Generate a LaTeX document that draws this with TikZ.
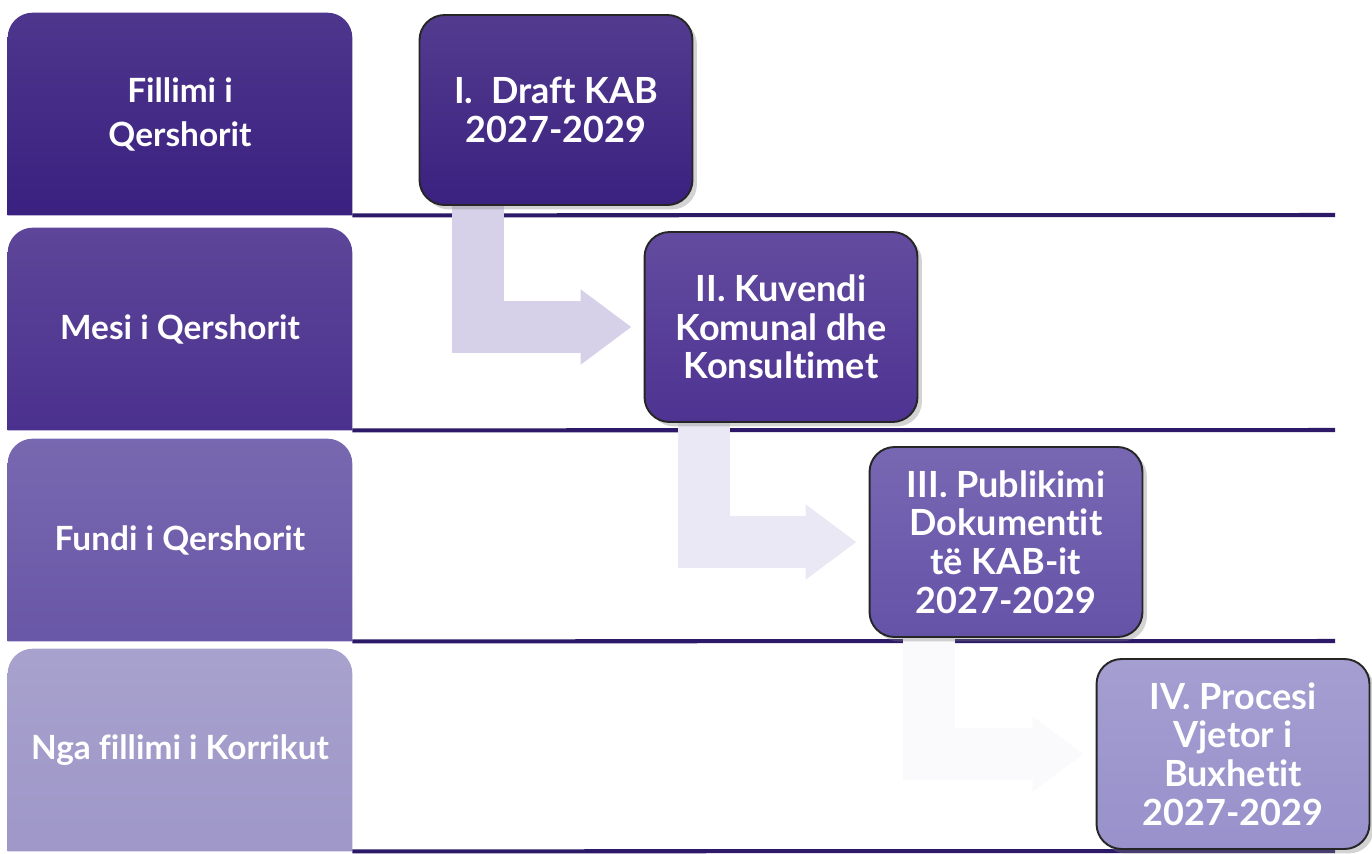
\documentclass[tikz,border=0pt]{standalone}
\usepackage{fontspec}
\setmainfont{Lato}[Ligatures=NoCommon]
\usetikzlibrary{arrows.meta,backgrounds,shadows}
\definecolor{rowA}{HTML}{3A2080}
\definecolor{rowB}{HTML}{4B318E}
\definecolor{rowC}{HTML}{6957A7}
\definecolor{rowD}{HTML}{9E97C8}
\definecolor{stepA}{HTML}{3B2180}
\definecolor{stepB}{HTML}{4E3392}
\definecolor{stepC}{HTML}{6553A8}
\definecolor{stepD}{HTML}{9891CB}
\definecolor{rule}{HTML}{2C1A68}
\definecolor{arrA}{HTML}{D7D0E9}
\definecolor{arrB}{HTML}{EBE8F5}
\definecolor{arrC}{HTML}{FAFAFD}
\begin{document}
\begin{tikzpicture}[x=0.02cm, y=-0.02cm, line join=round, line cap=round, text=white,
		lab/.style={minimum width=6.88cm, minimum height=4.04cm, align=center, inner sep=0pt,
			font=\bfseries\fontsize{19}{25}\selectfont},
		stepbox/.style={draw=black!85, line width=1.1pt, rounded corners=0.5cm, minimum width=5.46cm,
			minimum height=3.8cm, align=center, top color=#1!88!white, bottom color=#1,
			drop shadow={opacity=0.35}, font=\bfseries\fontsize{20.5}{22}\selectfont},
		rowline/.style={rule, line width=2.3pt, line cap=butt},
		flow/.style={#1, line width=1.04cm, line cap=butt, line join=miter,
			-{Triangle[width=1.44cm, length=1.02cm]}}]
	\useasboundingbox (0,0) rectangle (1372,853);
	% time labels
	\node[lab] (l1) at (180,114) {Fillimi i\\Qershorit};
	\node[lab] (l2) at (180,329) {Mesi i Qershorit};
	\node[lab] (l3) at (180,540) {Fundi i Qershorit};
	\node[lab] (l4) at (180,750) {Nga fillimi i Korrikut};
	% steps
	\node[stepbox=stepA] (s1) at (556,110) {I.\enspace Draft KAB\\2027-2029};
	\node[stepbox=stepB] (s2) at (781,327) {II. Kuvendi\\Komunal dhe\\Konsultimet};
	\node[stepbox=stepC] (s3) at (1006,542) {III. Publikimi\\Dokumentit\\të KAB-it\\2027-2029};
	\node[stepbox=stepD] (s4) at (1233,754) {IV. Procesi\\Vjetor i\\Buxhetit\\2027-2029};
	\coordinate (e1) at (1335,215);
	\coordinate (e2) at (1335,430);
	\coordinate (e3) at (1335,641);
	\coordinate (e4) at (1335,851);
	\begin{scope}[on background layer]
		\foreach \i/\c in {1/rowA,2/rowB,3/rowC,4/rowD}{
			\shade[top color=\c!90!white, bottom color=\c] (l\i.south west) -- ([yshift=-0.5cm]l\i.north west)
				arc[start angle=180, end angle=90, radius=0.5cm] -- ([xshift=-0.5cm]l\i.north east)
				arc[start angle=90, end angle=0, radius=0.5cm] -- (l\i.south east) -- cycle;
			\draw[rowline] (l\i.south east) -- (e\i);
		}
		\draw[flow=arrA] ([xshift=1.18cm]s1.south west) |- ([xshift=-0.24cm]s2.west);
		\draw[flow=arrB] ([xshift=1.2cm]s2.south west) |- ([xshift=-0.24cm]s3.west);
		\draw[flow=arrC] ([xshift=1.2cm]s3.south west) |- ([xshift=-0.24cm]s4.west);
	\end{scope}
\end{tikzpicture}
\end{document}
